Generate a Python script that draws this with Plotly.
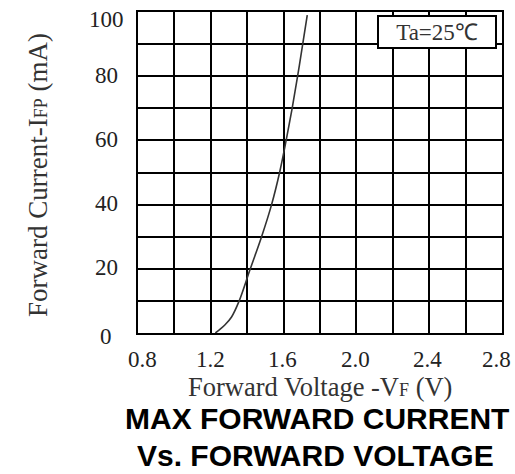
import plotly.graph_objects as go

# Data
forward_voltage = [1.225, 1.277, 1.314, 1.356, 1.417, 1.479, 1.534, 1.578, 1.614, 1.647, 1.677, 1.705, 1.730]
forward_current = [0, 2.5, 5, 10, 20, 30, 40, 50, 60, 70, 80, 90, 99]

x_ticks = [0.8, 1.2, 1.6, 2.0, 2.4, 2.8]
x_tick_labels = ["0.8", "1.2", "1.6", "2.0", "2.4", "2.8"]
y_ticks = [0, 20, 40, 60, 80, 100]
y_tick_labels = ["0", "20", "40", "60", "80", "100"]

# label nudges (pixels) seen in the reference: end labels are pulled inward
x_label_shift = [4, 0, -1, -1, -2, -6]
y_label_shift = [-4, 0, 0, 0, 0, -8]

W, H = 515, 474
# plot area in pixels: x 138..502, y 12..333
L, T = 138, 12
R = W - 502
B = H - 333
pw = W - L - R
ph = H - T - B

def px(xs):
    return (xs - L) / pw

def py(ys):
    return (H - B - ys) / ph

serif = "Liberation Serif, Times New Roman, serif"
sans = "Liberation Sans, Arial, sans-serif"
tick_font = dict(family=serif, size=23, color="#222222")

fig = go.Figure()
fig.add_trace(go.Scatter(
    x=forward_voltage, y=forward_current, mode="lines",
    line=dict(color="#333333", width=1.6, shape="spline", smoothing=1.0),
    hoverinfo="skip", showlegend=False,
))

axis_common = dict(
    showgrid=True, gridcolor="black", gridwidth=2,
    showline=True, linecolor="black", linewidth=2, mirror=True,
    zeroline=False, ticks="", automargin=False, showticklabels=False,
)

fig.update_xaxes(
    range=[0.8, 2.8], tickvals=x_ticks, ticktext=x_tick_labels,
    minor=dict(tick0=0.8, dtick=0.2, showgrid=True, gridcolor="black", gridwidth=2),
    **axis_common,
)
fig.update_yaxes(
    range=[0, 100], tickvals=y_ticks, ticktext=y_tick_labels,
    minor=dict(tick0=0, dtick=10, showgrid=True, gridcolor="black", gridwidth=2),
    **axis_common,
)

annotations = []
# tick labels placed through the axis scales
for v, lab, s in zip(x_ticks, x_tick_labels, x_label_shift):
    annotations.append(dict(
        text=lab, x=v, xref="x", y=py(359), yref="paper",
        xanchor="center", yanchor="middle", xshift=s, showarrow=False,
        font=tick_font))
for v, lab, s in zip(y_ticks, y_tick_labels, y_label_shift):
    annotations.append(dict(
        text=lab, x=px(106), xref="paper", y=v, yref="y",
        xanchor="center", yanchor="middle", yshift=s + 1, showarrow=False,
        font=tick_font))

annotations += [
    dict(text="Ta=25℃", x=px(437), y=py(32), xref="paper", yref="paper",
         xanchor="center", yanchor="middle", showarrow=False,
         font=dict(family=serif, size=23, color="#333333"),
         bgcolor="white", bordercolor="black", borderwidth=2, borderpad=0,
         width=116, height=30),
    dict(text='Forward Current-I<span style="font-size:18px">FP</span> (mA)',
         x=px(38), y=py(175), xref="paper", yref="paper", textangle=-90,
         xanchor="center", yanchor="middle", showarrow=False,
         font=dict(family=serif, size=27, color="#333333")),
    dict(text='Forward Voltage -V<span style="font-size:18px">F</span> (V)',
         x=px(320), y=py(387), xref="paper", yref="paper",
         xanchor="center", yanchor="middle", showarrow=False,
         font=dict(family=serif, size=26.5, color="#333333")),
    dict(text="<b>MAX FORWARD CURRENT</b>",
         x=px(317), y=py(418), xref="paper", yref="paper",
         xanchor="center", yanchor="middle", showarrow=False,
         font=dict(family=sans, size=30, color="black")),
    dict(text="<b>Vs. FORWARD VOLTAGE</b>",
         x=px(315), y=py(455), xref="paper", yref="paper",
         xanchor="center", yanchor="middle", showarrow=False,
         font=dict(family=sans, size=30, color="black")),
]

fig.update_layout(
    width=W, height=H,
    margin=dict(l=L, r=R, t=T, b=B, pad=0, autoexpand=False),
    paper_bgcolor="white", plot_bgcolor="white",
    annotations=annotations,
    showlegend=False,
    hovermode=False,
)

# remove the page's default body margin so the figure fills the window exactly
fig.write_html(
    "out.html",
    config={"displayModeBar": False, "staticPlot": True},
    post_script="document.body.style.margin='0';document.body.style.overflow='hidden';",
)
